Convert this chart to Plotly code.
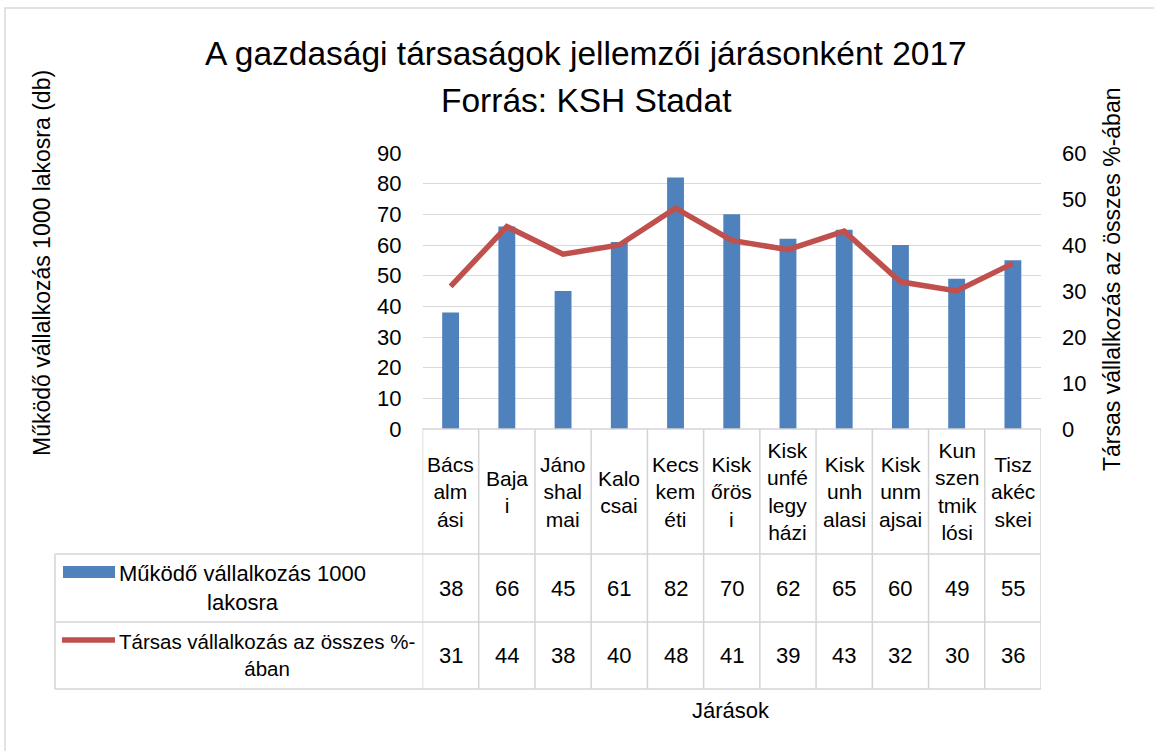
import plotly.graph_objects as go

W, H = 1154, 751

categories = ["Bácsalmási", "Bajai", "Jánoshalmai", "Kalocsai", "Kecskeméti", "Kiskőrösi",
              "Kiskunfélegyházi", "Kiskunhalasi", "Kiskunmajsai", "Kunszentmiklósi", "Tiszakécskei"]
category_labels = ["Bács<br>alm<br>ási", "Baja<br>i", "Jáno<br>shal<br>mai", "Kalo<br>csai",
                   "Kecs<br>kem<br>éti", "Kisk<br>őrös<br>i", "Kisk<br>unfé<br>legy<br>házi",
                   "Kisk<br>unh<br>alasi", "Kisk<br>unm<br>ajsai", "Kun<br>szen<br>tmik<br>lósi",
                   "Tisz<br>akéc<br>skei"]
mukodo = [38, 66, 45, 61, 82, 70, 62, 65, 60, 49, 55]
tarsas = [31, 44, 38, 40, 48, 41, 39, 43, 32, 30, 36]

series1_name = "Működő vállalkozás 1000 lakosra"
series1_label = "Működő vállalkozás 1000<br>lakosra"
series2_name = "Társas vállalkozás az összes %-ában"
series2_label = "Társas vállalkozás az összes %-<br>ában"

title1 = "A gazdasági társaságok jellemzői járásonként 2017"
title2 = "Forrás: KSH Stadat"
ytitle_left = "Működő vállalkozás 1000 lakosra (db)"
ytitle_right = "Társas vállalkozás az összes %-ában"
xtitle = "Járások"

FONT = "Liberation Sans, Arial, sans-serif"
TXT = "#000000"
GRID = "#D9D9D9"
BLUE = "#4F81BD"
RED = "#C0504D"


def px(x):
    return x / W


def py(y):
    return 1 - y / H


# plot area in pixels
PL, PR, PT, PB = 422.5, 1041, 153, 429
# table rows in pixels
R1B, R2B, R3B = 554, 622, 689
TL = 55

n = len(categories)
xs = list(range(n))

fig = go.Figure()
fig.add_trace(go.Bar(x=xs, y=mukodo, name=series1_name, marker=dict(color=BLUE, line=dict(width=0)),
                     width=0.3, yaxis="y"))
fig.add_trace(go.Scatter(x=xs, y=tarsas, name=series2_name, mode="lines",
                         line=dict(color=RED, width=5.5), yaxis="y2"))

shapes = []
annotations = []

# outer chart border
shapes.append(dict(type="rect", xref="paper", yref="paper", x0=px(5), x1=px(1160), y0=py(8), y1=py(760),
                   line=dict(color="#D9D9D9", width=1.5), fillcolor="rgba(0,0,0,0)", layer="below"))

# table lines
tl = dict(color="#D4D4D4", width=1.5)
for i in range(n + 1):
    shapes.append(dict(type="line", xref="x", yref="paper", x0=i - 0.5, x1=i - 0.5,
                       y0=py(PB), y1=py(R3B), line=tl))
shapes.append(dict(type="line", xref="paper", yref="paper", x0=px(PL), x1=px(PR), y0=py(PB), y1=py(PB), line=tl))
for yy in (R1B, R2B, R3B):
    shapes.append(dict(type="line", xref="paper", yref="paper", x0=px(TL), x1=px(PR), y0=py(yy), y1=py(yy), line=tl))
shapes.append(dict(type="line", xref="paper", yref="paper", x0=px(TL), x1=px(TL), y0=py(R1B), y1=py(R3B), line=tl))

# legend keys inside table
shapes.append(dict(type="rect", xref="paper", yref="paper", x0=px(63), x1=px(115), y0=py(578), y1=py(566),
                   fillcolor=BLUE, line=dict(width=0)))
shapes.append(dict(type="line", xref="paper", yref="paper", x0=px(62), x1=px(115), y0=py(640), y1=py(640),
                   line=dict(color=RED, width=5.5)))

tf = dict(family=FONT, size=22, color=TXT)
annotations.append(dict(text=series1_label, xref="paper", yref="paper", x=px(242), y=py(588),
                        showarrow=False, font=tf, align="center", xanchor="center", yanchor="middle"))
annotations.append(dict(text=series2_label, xref="paper", yref="paper", x=px(267), y=py(655),
                        showarrow=False, font=dict(family=FONT, size=20.5, color=TXT),
                        align="center", xanchor="center", yanchor="middle"))

cf = dict(family=FONT, size=21, color=TXT)
for i in range(n):
    annotations.append(dict(text=category_labels[i], xref="x", yref="paper", x=xs[i], y=py((PB + R1B) / 2),
                            showarrow=False, font=cf, align="center", xanchor="center", yanchor="middle"))
    annotations.append(dict(text=str(mukodo[i]), xref="x", yref="paper", x=xs[i], y=py((R1B + R2B) / 2),
                            showarrow=False, font=tf, xanchor="center", yanchor="middle"))
    annotations.append(dict(text=str(tarsas[i]), xref="x", yref="paper", x=xs[i], y=py((R2B + R3B) / 2),
                            showarrow=False, font=tf, xanchor="center", yanchor="middle"))

# titles
annotations.append(dict(text=title1, xref="paper", yref="paper", x=px(586), y=py(53), showarrow=False,
                        font=dict(family=FONT, size=33.5, color=TXT), xanchor="center", yanchor="middle"))
annotations.append(dict(text=title2, xref="paper", yref="paper", x=px(586), y=py(100), showarrow=False,
                        font=dict(family=FONT, size=33.5, color=TXT), xanchor="center", yanchor="middle"))
annotations.append(dict(text=ytitle_left, xref="paper", yref="paper", x=px(42), y=py(263), showarrow=False,
                        textangle=-90, font=dict(family=FONT, size=23, color=TXT),
                        xanchor="center", yanchor="middle"))
annotations.append(dict(text=ytitle_right, xref="paper", yref="paper", x=px(1112), y=py(279), showarrow=False,
                        textangle=-90, font=dict(family=FONT, size=23, color=TXT),
                        xanchor="center", yanchor="middle"))
annotations.append(dict(text=xtitle, xref="paper", yref="paper", x=px(731), y=py(710), showarrow=False,
                        font=dict(family=FONT, size=22, color=TXT), xanchor="center", yanchor="middle"))

fig.update_layout(
    width=W, height=H,
    margin=dict(l=0, r=0, t=0, b=0, pad=0, autoexpand=False),
    paper_bgcolor="white", plot_bgcolor="white",
    showlegend=False,
    xaxis=dict(domain=[px(PL), px(PR)], range=[-0.5, n - 0.5], showticklabels=False, showgrid=False,
               zeroline=False, showline=False, ticks="", fixedrange=True, automargin=False),
    yaxis=dict(domain=[py(PB), py(PT)], range=[0, 90], dtick=10, tick0=0, showgrid=True, gridcolor=GRID,
               gridwidth=1.3, zeroline=False, showline=False, ticks="", automargin=False,
               tickfont=dict(family=FONT, size=22, color=TXT), ticklabelstandoff=20),
    yaxis2=dict(overlaying="y", side="right", anchor="x", range=[0, 60], dtick=10, tick0=0, showgrid=False,
                zeroline=False, showline=False, ticks="", automargin=False,
                tickfont=dict(family=FONT, size=22, color=TXT), ticklabelstandoff=20),
    shapes=shapes,
    annotations=annotations,
    font=dict(family=FONT, color=TXT),
)

fig.write_html("out.html", config={"displayModeBar": False},
               post_script="document.body.style.margin='0';document.body.style.overflow='hidden';")
